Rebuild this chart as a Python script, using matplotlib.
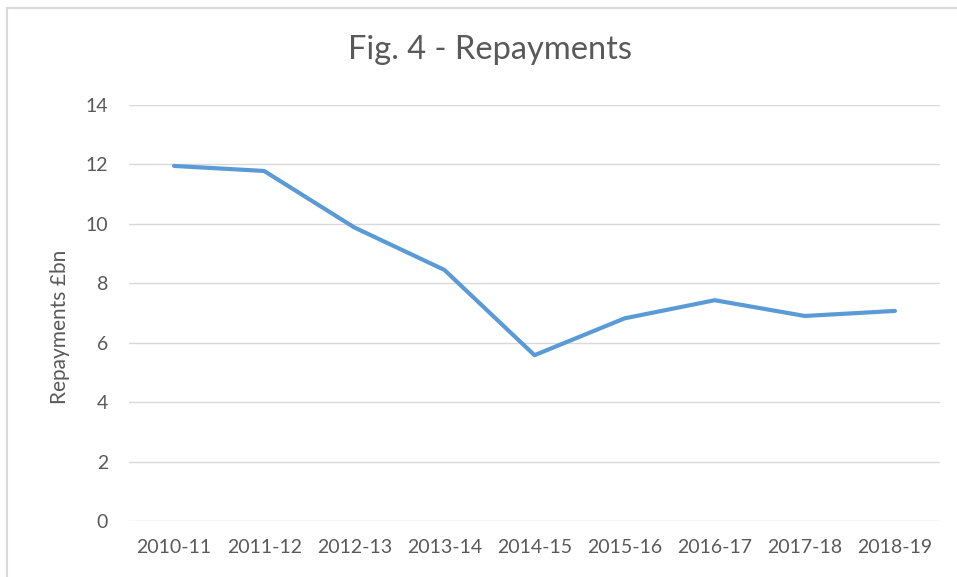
import matplotlib
matplotlib.use("Agg")
import matplotlib.pyplot as plt
from matplotlib.lines import Line2D

categories = ["2010-11", "2011-12", "2012-13", "2013-14", "2014-15",
              "2015-16", "2016-17", "2017-18", "2018-19"]
repayments = [11.95, 11.78, 9.88, 8.45, 5.58, 6.82, 7.43, 6.90, 7.07]
y_ticks = [0, 2, 4, 6, 8, 10, 12, 14]

plt.rcParams['font.family'] = ['Lato', 'DejaVu Sans']
text_color = "#595959"

fig = plt.figure(figsize=(9.57, 5.77), dpi=100)
ax = fig.add_axes([129/957, 1-521/577, (940-129)/957, (521-105)/577])

x = list(range(len(categories)))
ax.plot(x, repayments, color="#5B9BD5", linewidth=3.0, solid_capstyle="round",
        solid_joinstyle="round", zorder=3)

ax.set_xlim(-0.5, len(categories) - 0.5)
ax.set_ylim(0, 14)
ax.set_yticks(y_ticks)
ax.set_yticklabels([str(t) for t in y_ticks])
ax.set_xticks(x)
ax.set_xticklabels(categories)
ax.tick_params(axis="both", length=0, labelsize=14, colors=text_color)
ax.tick_params(axis="y", pad=15)
ax.tick_params(axis="x", pad=13)
ax.grid(axis="y", color="#D9D9D9", linewidth=1.0)
ax.set_axisbelow(True)
for s in ax.spines.values():
    s.set_visible(False)

fig.text(490/957, 1-50/577, "Fig. 4 - Repayments", ha="center", va="center",
         fontsize=23.5, color=text_color)
fig.text(60/957, 1-327/577, "Repayments £bn", ha="center", va="center",
         rotation=90, fontsize=15, color=text_color)

# chart-area border (top and left visible in reference)
fig.add_artist(Line2D([7.5/957, 7.5/957], [0, 1-7.5/577], transform=fig.transFigure,
                      color="#D9D9D9", linewidth=1.5))
fig.add_artist(Line2D([7.5/957, 1], [1-7.5/577, 1-7.5/577], transform=fig.transFigure,
                      color="#D9D9D9", linewidth=1.5))

fig.savefig("out.png", dpi=100)
